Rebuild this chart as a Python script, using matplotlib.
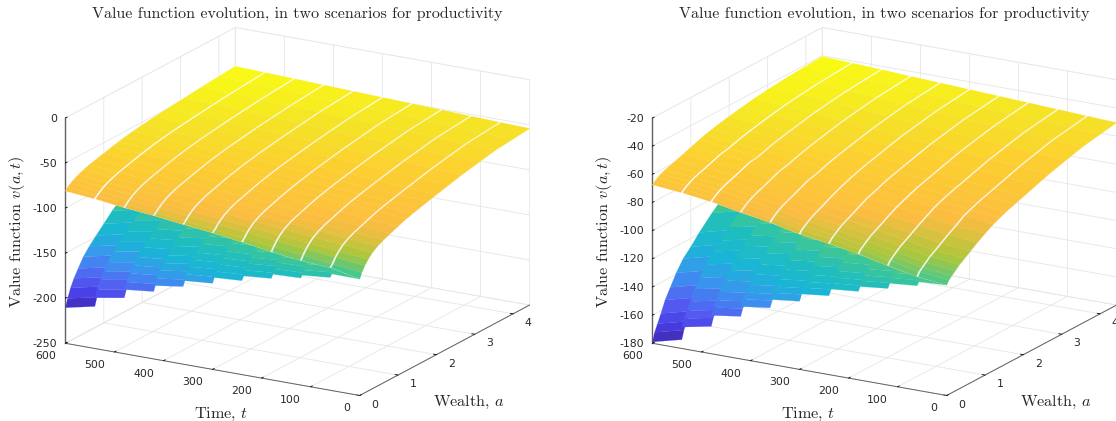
import numpy as np
import matplotlib
matplotlib.use("Agg")
import matplotlib.pyplot as plt
from matplotlib.colors import LinearSegmentedColormap, Normalize

plt.rcParams["axes.unicode_minus"] = False
plt.rcParams["mathtext.fontset"] = "cm"
plt.rcParams["axes.formatter.use_mathtext"] = True

W, H = 1116, 421
TITLE = "Value function evolution, in two scenarios for productivity"

wealth_lower = [0, .055, .133, .22, .33, .465, .62, .8, 1, 1.22, 1.55, 2, 2.66, 3.54, 4.43]
wealth_upper = [0, .055, .133, .22, .33, .465, .62, .8, 1, 1.22, 1.38, 1.55, 1.77, 2, 2.33, 2.66, 3.1, 3.54, 3.99, 4.43]
time_edges = [600, 540, 480, 420, 360, 300, 240, 180, 120, 60, 0]
time_ticks = [0, 100, 200, 300, 400, 500, 600]
wealth_ticks = [0, 1, 2, 3, 4]
z_ticks_left = [-250, -200, -150, -100, -50, 0]
z_ticks_right = [-180, -160, -140, -120, -100, -80, -60, -40, -20]

upper_left = [
    [-81, -78, -75.5, -73, -70.7, -68.3, -66, -64, -61.8, -59.5, -57.8, -56.2, -54.6, -53, -51.4, -49.8, -48, -46.1, -44.5, -43],
    [-84, -81.7, -78.9, -76.1, -73.5, -71, -68.6, -66.5, -64.1, -61.7, -60, -58.3, -56.6, -55, -53.2, -51.4, -49.3, -47.3, -45.7, -44.1],
    [-88, -85.4, -82.2, -79.2, -76.4, -73.6, -71.1, -68.9, -66.4, -63.9, -62.2, -60.5, -58.7, -56.9, -54.9, -52.9, -50.7, -48.5, -46.8, -45.2],
    [-91, -89.1, -85.6, -82.3, -79.2, -76.3, -73.7, -71.4, -68.8, -66.1, -64.3, -62.6, -60.7, -58.9, -56.7, -54.5, -52.1, -49.7, -48, -46.4],
    [-95, -92.8, -88.9, -85.4, -82, -79, -76.2, -73.8, -71.1, -68.3, -66.5, -64.7, -62.7, -60.8, -58.4, -56.1, -53.5, -50.9, -49.2, -47.5],
    [-98.5, -96.5, -92.3, -88.5, -84.9, -81.7, -78.8, -76.3, -73.4, -70.5, -68.7, -66.9, -64.8, -62.8, -60.2, -57.7, -54.9, -52.1, -50.3, -48.6],
    [-103, -100.2, -95.6, -91.6, -87.7, -84.3, -81.3, -78.7, -75.7, -72.7, -70.8, -69, -66.8, -64.7, -61.9, -59.2, -56.2, -53.2, -51.4, -49.7],
    [-108, -103.9, -99, -94.7, -90.5, -87, -83.9, -81.2, -78, -74.9, -73, -71.1, -68.9, -66.7, -63.7, -60.8, -57.6, -54.4, -52.6, -50.8],
    [-112, -107.6, -102.3, -97.8, -93.3, -89.7, -86.4, -83.6, -80.4, -77.1, -75.1, -73.2, -70.9, -68.6, -65.5, -62.4, -59, -55.6, -53.8, -52],
    [-114, -111.3, -105.7, -100.9, -96.2, -92.3, -89, -86.1, -82.7, -79.3, -77.3, -75.4, -73, -70.6, -67.2, -63.9, -60.3, -56.8, -54.9, -53.1],
    [-120.9, -115, -109, -104, -99, -95, -91.5, -88.5, -85, -81.5, -79.5, -77.5, -75, -72.5, -69, -65.5, -61.7, -58, -56.1, -54.2],
]
lower_left = [
    [-210.5, -201.5, -191.5, -183, -174.5, -164.5, -156.5, -148.5, -140, -130.5, -118.5, -105.5, -92.5, -80.5, -72.5],
    [-193.7, -185.7, -176.8, -169.3, -161.7, -152.8, -145.7, -138.6, -131, -122.6, -111.9, -100.4, -88.8, -78.1, -71],
    [-178.8, -171.7, -163.8, -157, -150.3, -142.4, -136, -129.7, -123, -115.4, -105.9, -95.6, -85.3, -75.8, -69.5],
    [-168.6, -162, -154.7, -148.6, -142.4, -135.1, -129.2, -123.4, -117.2, -110.3, -101.5, -92.1, -82.6, -73.8, -68],
    [-157.3, -151.4, -144.8, -139.2, -133.6, -127, -121.8, -116.5, -110.9, -104.7, -96.8, -88.2, -79.7, -71.8, -66.5],
    [-147.9, -142.5, -136.5, -131.4, -126.3, -120.3, -115.4, -110.6, -105.5, -99.8, -92.6, -84.8, -77, -69.8, -65],
    [-140.4, -135.4, -129.7, -125, -120.2, -114.6, -110.1, -105.6, -100.8, -95.5, -88.8, -81.5, -74.2, -67.5, -63],
    [-132.6, -128, -122.8, -118.4, -114.1, -108.9, -104.8, -100.7, -96.3, -91.4, -85.2, -78.5, -71.8, -65.6, -61.5],
    [-128, -123.6, -118.6, -114.4, -110.3, -105.3, -101.4, -97.4, -93.2, -88.6, -82.6, -76.2, -69.8, -63.9, -60],
    [-120.6, -114.7, -108.7, -103.7, -98.7, -94.7, -91.2, -88.2, -84.7, -81.2, -77.2, -72.2, -65.2, -57.7, -53.9],
]
lower_rise_left = [7.2, 5.7, 3.6, 4.7, 2.8, 2.1, 2.9, 1.3, 3.1, -0.3]

upper_right = [
    [-67.4, -66, -64.4, -62.9, -61.6, -60.3, -59, -57.3, -55.3, -53.2, -51.8, -50.5, -49.1, -47.8, -46.2, -44.6, -43.2, -42, -41.2, -40.5],
    [-69.4, -67.9, -66.3, -64.8, -63.4, -62, -60.6, -58.8, -56.7, -55.5, -54.1, -52.7, -51.2, -49.8, -48, -46.3, -44.7, -43.3, -42.4, -41.5],
    [-72.1, -70.5, -68.9, -67.3, -65.8, -64.3, -62.8, -60.8, -58.6, -57.8, -56.3, -54.8, -53.3, -51.8, -49.9, -48, -46.2, -44.6, -43.5, -42.5],
    [-76, -74.3, -72.6, -70.9, -69.2, -67.6, -65.9, -63.7, -61.4, -60, -58.5, -57, -55.4, -53.8, -51.7, -49.7, -47.7, -45.8, -44.6, -43.5],
    [-79.4, -77.6, -75.8, -74.1, -72.2, -70.5, -68.6, -66.3, -63.8, -62.3, -60.7, -59.1, -57.4, -55.8, -53.6, -51.4, -49.2, -47.1, -45.8, -44.5],
    [-84, -82, -80.2, -78.3, -76.3, -74.4, -72.3, -69.7, -67, -64.6, -62.9, -61.3, -59.5, -57.8, -55.4, -53, -50.7, -48.4, -46.9, -45.5],
    [-87, -84.8, -83, -81.1, -78.9, -76.9, -74.7, -72, -69.1, -66.9, -65.1, -63.4, -61.6, -59.8, -57.2, -54.7, -52.2, -49.7, -48.1, -46.5],
    [-90.7, -88.4, -86.6, -84.6, -82.3, -80.2, -77.7, -74.8, -71.8, -69.2, -67.4, -65.6, -63.7, -61.8, -59.1, -56.4, -53.7, -51, -49.2, -47.5],
    [-95.3, -92.7, -90.8, -88.7, -86.2, -84, -81.3, -78.1, -74.9, -71.4, -69.5, -67.7, -65.7, -63.8, -60.9, -58.1, -55.1, -52.2, -50.3, -48.5],
    [-99.4, -96.7, -94.7, -92.6, -89.9, -87.5, -84.6, -81.2, -77.8, -73.7, -71.8, -69.9, -67.8, -65.8, -62.8, -59.8, -56.6, -53.5, -51.5, -49.5],
    [-101.6, -99, -97, -94.8, -92, -89.5, -86.5, -83, -79.5, -76, -74, -72, -69.9, -67.8, -64.6, -61.5, -58.1, -54.8, -52.6, -50.5],
]
lower_right = [
    [-179, -173, -168, -162, -154, -147, -139, -131.5, -126, -119, -110, -99, -87, -77, -69],
    [-164.8, -159.5, -155, -149.7, -142.6, -136.4, -129.2, -122.6, -117.7, -111.5, -103.5, -93.7, -83, -74.1, -67],
    [-152.8, -148, -144, -139.2, -132.8, -127.3, -120.9, -114.9, -110.5, -104.9, -97.7, -89, -79.4, -71.4, -65],
    [-142.8, -138.4, -134.8, -130.5, -124.7, -119.6, -113.8, -108.4, -104.4, -99.3, -92.8, -84.8, -76.1, -68.8, -63],
    [-134.1, -130.1, -126.8, -122.8, -117.5, -112.8, -107.5, -102.5, -98.9, -94.2, -88.2, -80.9, -72.9, -66.3, -61],
    [-126.4, -122.7, -119.7, -116, -111.1, -106.8, -101.9, -97.3, -93.9, -89.6, -84.1, -77.4, -70, -63.9, -59],
    [-119.2, -115.8, -113, -109.6, -105.1, -101.1, -96.6, -92.4, -89.3, -85.3, -80.2, -74, -67.2, -61.6, -57],
    [-113.7, -110.5, -107.8, -104.6, -100.3, -96.6, -92.3, -88.3, -85.4, -81.7, -76.9, -71, -64.6, -59.2, -55],
    [-107.6, -104.6, -102.1, -99.2, -95.2, -91.7, -87.8, -84, -81.3, -77.8, -73.4, -67.9, -62, -57, -53],
    [-102.8, -100.2, -98.2, -96, -93.2, -90.7, -87.7, -84.2, -80.7, -77.2, -73.2, -69, -62.7, -56, -51.7],
]
lower_rise_right = [5.3, 4.2, 3, 2.8, 2.5, 2.4, 2, 2.3, 1.8, 1.2]

parula = LinearSegmentedColormap.from_list("parula", [
    (0.00, (.2422, .1504, .6603)),
    (.09, (.2810, .2400, .9000)),
    (.18, (.3300, .3600, .9500)),
    (.30, (.2300, .5800, .9400)),
    (.40, (.1000, .7100, .8400)),
    (.48, (.1200, .7400, .7500)),
    (.56, (.2500, .7800, .5800)),
    (.65, (.6700, .7800, .2300)),
    (.75, (.9856, .7372, .2537)),
    (.875, (.9892, .8136, .1885)),
    (.94, (.9600, .8900, .1500)),
    (1.0, (.9769, .9839, .0805)),
])

S = 520.0
FRAC = 0.095 / 0.185
GRID = (0.9, 0.9, 0.9)
AXC = (0.38, 0.38, 0.38)
TXT = (0.15, 0.15, 0.15)
PX = 0.185 / S  # projected units per pixel


def slab(ax, a_grid, t_pair, rows, norm, order, white=False):
    X, Y = np.meshgrid(a_grid, t_pair)
    Z = np.array(rows, dtype=float)
    avg = 0.25 * (Z[:-1, :-1] + Z[1:, :-1] + Z[:-1, 1:] + Z[1:, 1:])
    fc = np.ones(Z.shape + (4,))
    if not white:
        fc[:-1, :-1] = parula(norm(avg))
    ax.plot_surface(X, Y, Z, facecolors=fc, rstride=1, cstride=1, shade=False,
                    linewidth=0.12, antialiased=True, zorder=order)


def shift_label(axis, dx, dy):
    original = axis.label.set_position
    axis.label.set_position = lambda xy: original((xy[0] + dx * PX, xy[1] + dy * PX))


def panel(cx, cy, upper, lower, rise, zlim, zticks, vmin, vmax):
    ax = fig.add_axes([(cx - FRAC * S) / W, (cy - FRAC * S) / H, S / W, S / H],
                      projection="3d", proj_type="ortho", computed_zorder=False)
    ax.patch.set_alpha(0)
    ax.view_init(elev=17.9, azim=-150)
    ax.set_box_aspect((340, 340, 237), zoom=1.0)
    ax.set_xlim(0, 4.43, view_margin=0)
    ax.set_ylim(0, 600, view_margin=0)
    ax.set_zlim(zlim[0], zlim[1], view_margin=0)
    norm = Normalize(vmin, vmax)

    order = 2
    for k in range(10):
        row0 = np.array(lower[k], dtype=float)
        slab(ax, wealth_lower, [time_edges[k], time_edges[k + 1]], [row0, row0 + rise[k]], norm, order)
        order += 1
    # white backing: the slits between the blocks of the upper sheet show white
    for k in range(10):
        slab(ax, wealth_upper, [time_edges[k], time_edges[k + 1]], [upper[k], upper[k + 1]], norm, order, white=True)
        order += 1
    for k in range(10):
        t0 = time_edges[k] - (1.9 if k > 0 else 0)
        t1 = time_edges[k + 1] + (1.9 if k < 9 else 0)
        slab(ax, wealth_upper, [t0, t1], [upper[k], upper[k + 1]], norm, order)
        order += 1

    ax.set_xticks(wealth_ticks)
    ax.set_yticks(time_ticks)
    ax.set_zticks(zticks)
    ax.set_xticklabels([str(v) for v in wealth_ticks])
    ax.set_yticklabels([str(v) for v in time_ticks])
    ax.set_zticklabels([str(v) for v in zticks])
    for axis in (ax.xaxis, ax.yaxis, ax.zaxis):
        axis.pane.set_facecolor((1, 1, 1, 0))
        axis.pane.set_edgecolor(GRID)
        axis.pane.set_linewidth(0.6)
        axis.line.set_color(AXC)
        axis.line.set_linewidth(0.7)
        axis._axinfo["grid"].update(color=GRID, linewidth=0.6)
        axis._axinfo["tick"].update(color=AXC, linewidth={True: 0.6, False: 0.6},
                                    inward_factor=0.0, outward_factor=0.12)
        axis.set_rotate_label(False)
    ax.zaxis.line.set_linewidth(1.0)
    ax.xaxis.set_tick_params(labelsize=7.8, labelcolor=TXT, pad=2)
    ax.yaxis.set_tick_params(labelsize=7.8, labelcolor=TXT, pad=3)
    ax.zaxis.set_tick_params(labelsize=7.8, labelcolor=TXT, pad=-4.5)
    for lab in ax.get_xticklabels():
        lab.set_va("bottom")
    for lab in ax.get_yticklabels():
        lab.set_ha("right")
        lab.set_va("bottom")
    for lab in ax.get_zticklabels():
        lab.set_ha("right")
        lab.set_va("center")
    lf = dict(fontfamily="cmr10", fontsize=11.7, color=TXT)
    ax.set_xlabel("Wealth, $a$", labelpad=8, **lf)
    ax.set_ylabel("Time, $t$", labelpad=8, **lf)
    ax.set_zlabel("Value function $v(a,t)$", rotation=90, labelpad=8, **lf)
    shift_label(ax.xaxis, -19, -11)
    shift_label(ax.yaxis, 34, 2)
    shift_label(ax.zaxis, 21, 5)
    ax.set_title(TITLE, fontfamily="cmr10", fontsize=11.5, color=TXT, x=FRAC, va="center", pad=0,
                 y=(H - 14 - (cy - FRAC * S)) / S / 0.92)
    return ax


fig = plt.figure(figsize=(W / 100, H / 100), dpi=100)
panel(297.5, 209.5, upper_left, lower_left, lower_rise_left, (-250, 0), z_ticks_left, -210.5, -43)
panel(884.5, 209.5, upper_right, lower_right, lower_rise_right, (-180, -20), z_ticks_right, -179, -40.5)
fig.savefig("out.png", dpi=100)
